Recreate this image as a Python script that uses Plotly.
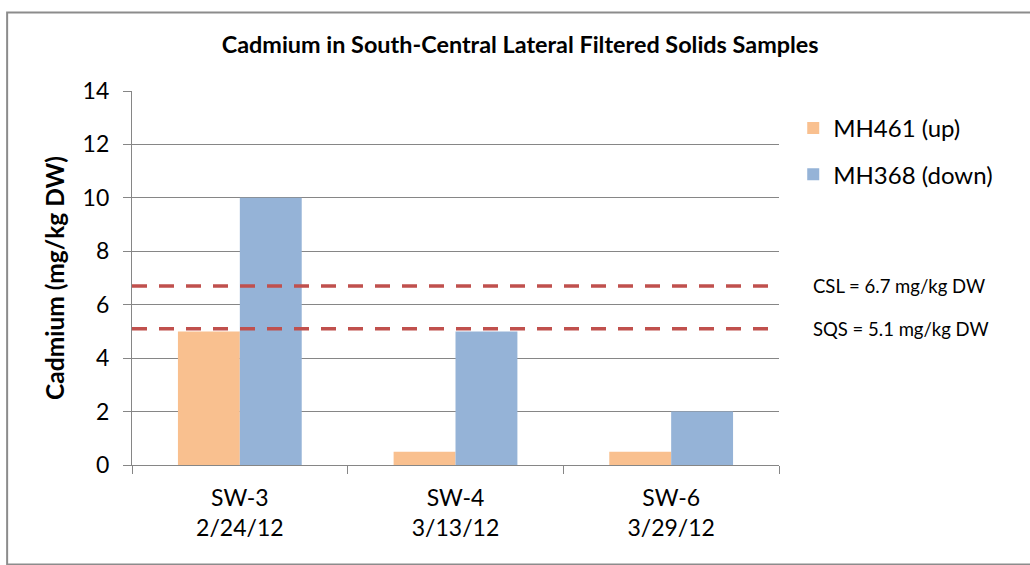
import plotly.graph_objects as go

# Sample locations and collection dates
samples = ["SW-3", "SW-4", "SW-6"]
dates = ["2/24/12", "3/13/12", "3/29/12"]

# Cadmium concentrations (mg/kg DW)
mh461_up = [5.0, 0.5, 0.5]
mh368_down = [10.0, 5.0, 2.0]

# Sediment criteria
criteria_names = ["CSL", "SQS"]
criteria_values = [6.7, 5.1]

FONT = "Lato"
GRID = "#868686"

fig = go.Figure()
fig.add_trace(go.Bar(x=samples, y=mh461_up, name="MH461 (up)",
                     marker=dict(color="#F9C08F", line=dict(width=0)),
                     legendgroup="a"))
fig.add_trace(go.Bar(x=samples, y=mh368_down, name="MH368 (down)",
                     marker=dict(color="#95B3D7", line=dict(width=0)),
                     legendgroup="b"))

# Criterion lines with labels to the right of the plot area
for name, val in zip(criteria_names, criteria_values):
    fig.add_shape(type="line", xref="paper", x0=0, x1=1, yref="y", y0=val, y1=val,
                  line=dict(color="#C0504D", width=3.5, dash="15px,12px"))
    fig.add_annotation(xref="paper", x=1.05, yref="y", y=val, xanchor="left",
                       yanchor="middle", showarrow=False,
                       text=f"{name} = {val} mg/kg DW",
                       font=dict(family=FONT, size=18.5, color="black"))

# Outer chart border
fig.add_shape(type="rect", xref="paper", yref="paper", x0=-0.193, x1=1.45, y0=-0.266, y1=1.21,
              line=dict(color="#8C8C8C", width=2))

fig.update_layout(
    width=1030, height=565,
    margin=dict(l=132, r=251, t=91, b=100),
    paper_bgcolor="white", plot_bgcolor="white",
    barmode="group", bargap=0.426, bargroupgap=0,
    title=dict(text="<b>Cadmium in South-Central Lateral Filtered Solids Samples</b>",
               x=0.505, xref="container", y=0.92, yref="container", yanchor="middle",
               font=dict(family=FONT, size=23.4, color="black")),
    legend=dict(x=1.022, xanchor="left", y=0.96, yanchor="top",
                font=dict(family=FONT, size=24, color="black"),
                tracegroupgap=12, bgcolor="rgba(0,0,0,0)"),
    xaxis=dict(type="category", showline=True, linecolor=GRID, linewidth=1.3,
               ticks="outside", tickson="boundaries", ticklen=8, tickcolor=GRID,
               showgrid=False, ticklabelstandoff=12,
               tickfont=dict(family=FONT, size=23, color="black")),
    xaxis2=dict(overlaying="x", anchor="y", side="bottom", type="linear",
                range=[-0.5, 2.5], tickmode="array", tickvals=list(range(len(dates))),
                ticktext=dates, showgrid=False, showline=False, ticks="",
                zeroline=False, ticklabelstandoff=47,
                tickfont=dict(family=FONT, size=23, color="black")),
    yaxis=dict(range=[0, 14], dtick=2, showgrid=True, gridcolor=GRID, gridwidth=1.3,
               showline=True, linecolor=GRID, linewidth=1.3, zeroline=False,
               ticks="outside", ticklen=8, tickcolor=GRID, ticklabelstandoff=9,
               tickfont=dict(family=FONT, size=23, color="black"),
               title=dict(text="<b>Cadmium (mg/kg DW)</b>", standoff=10,
                          font=dict(family=FONT, size=24.5, color="black"))),
)

# Invisible trace that activates the date axis
fig.add_trace(go.Scatter(x=[0, 2], y=[0, 0], xaxis="x2", mode="markers",
                         marker=dict(opacity=0), showlegend=False, hoverinfo="skip"))

fig.write_html("out.html")
